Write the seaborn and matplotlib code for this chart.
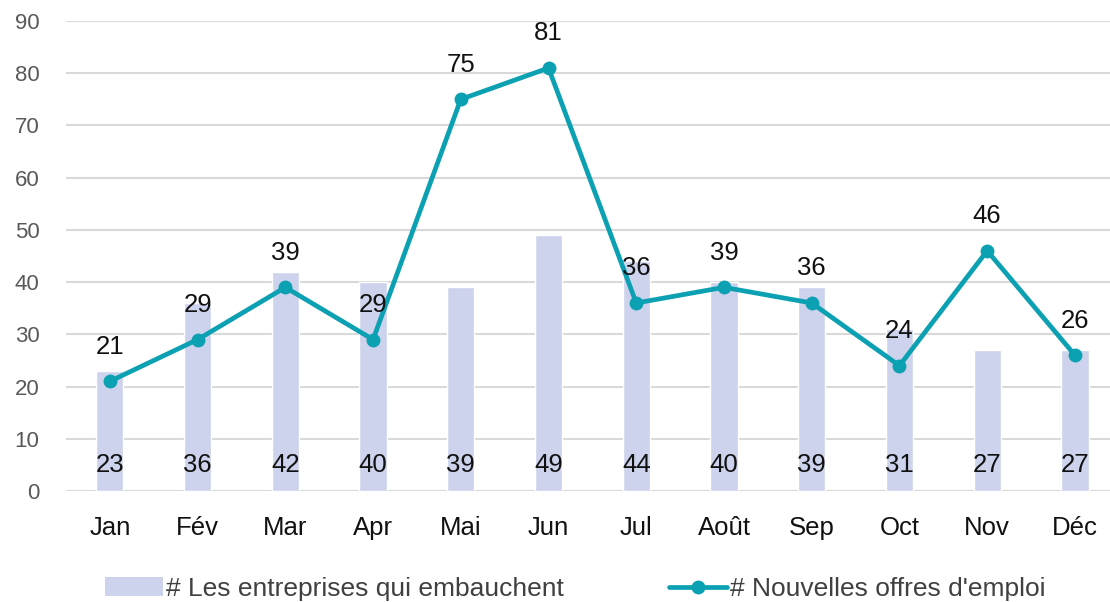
import numpy as np
import pandas as pd
import matplotlib
matplotlib.use("Agg")
import matplotlib.pyplot as plt
from matplotlib.patches import Patch
from matplotlib.lines import Line2D
import seaborn as sns

MONTHS = ["Jan", "Fév", "Mar", "Apr", "Mai", "Jun", "Jul", "Août", "Sep", "Oct", "Nov", "Déc"]
ENTREPRISES = [23, 36, 42, 40, 39, 49, 44, 40, 39, 31, 27, 27]
OFFRES = [21, 29, 39, 29, 75, 81, 36, 39, 36, 24, 46, 26]
LABEL_BARS = "# Les entreprises qui embauchent"
LABEL_LINE = "# Nouvelles offres d'emploi"

BAR_COLOR = "#CDD3EC"
LINE_COLOR = "#0BA1B2"

sns.set_style("white")
plt.rcParams["font.family"] = ["Liberation Sans", "DejaVu Sans"]

df = pd.DataFrame({"mois": MONTHS, "entreprises": ENTREPRISES, "offres": OFFRES})
df["pos"] = np.arange(len(df))

fig = plt.figure(figsize=(11.1, 6.02), dpi=100)
ax = fig.add_axes([66 / 1110, 111 / 602, 1 - 66 / 1110, 470 / 602])

sns.barplot(data=df, x="mois", y="entreprises", color=BAR_COLOR, width=0.31,
            saturation=1, ax=ax, zorder=2)
sns.lineplot(data=df, x="pos", y="offres", color=LINE_COLOR, linewidth=3.4,
             marker="o", markersize=10, markeredgewidth=0, ax=ax, zorder=3)

for i, v in enumerate(ENTREPRISES):
    ax.text(i, 5.0, str(v), ha="center", va="center", fontsize=18.5, color="#111111", zorder=4)
for i, v in enumerate(OFFRES):
    ax.annotate(str(v), (i, v), xytext=(0, 25), textcoords="offset points",
                ha="center", va="center", fontsize=18.5, color="#111111", zorder=4)

ax.set_ylim(0, 90)
ax.set_yticks(range(0, 91, 10))
ax.set_xlim(-0.5, 11.4)
ax.grid(axis="y", color="#D9D9D9", linewidth=1.5, zorder=0)
ax.set_axisbelow(True)
for s in ax.spines.values():
    s.set_visible(False)
ax.set_xlabel("")
ax.set_ylabel("")
ax.tick_params(axis="y", labelsize=16, labelcolor="#595959", length=0, pad=19)
ax.tick_params(axis="x", labelsize=18.5, labelcolor="#111111", length=0, pad=18)

handles = [
    Patch(facecolor=BAR_COLOR, edgecolor="none"),
    Line2D([0], [0], color=LINE_COLOR, linewidth=3.4, marker="o", markersize=10, markeredgewidth=0),
]
fig.legend(handles, [LABEL_BARS, LABEL_LINE], loc="center", bbox_to_anchor=(0.518, 0.022),
           ncol=2, frameon=False, fontsize=19, labelcolor="#404040",
           handlelength=2.2, handletextpad=0.1, columnspacing=4)

fig.savefig("out.png", dpi=100)
